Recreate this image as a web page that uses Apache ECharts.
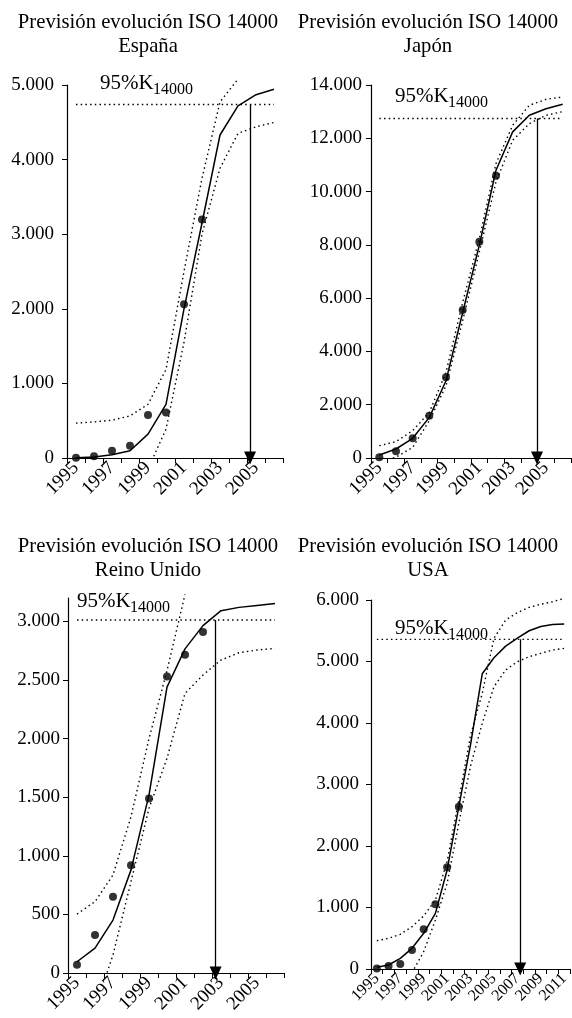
<!DOCTYPE html>
<html>
<head>
<meta charset="utf-8">
<script src="https://cdn.jsdelivr.net/npm/echarts@6/dist/echarts.min.js"></script>
<style>
  html, body { margin: 0; padding: 0; background: #fff; }
  #chart { width: 572px; height: 1018px; }
</style>
</head>
<body>
<div id="chart"></div>
<script>
// años (categorías) de cada gráfico
var yearsA = [1995, 1996, 1997, 1998, 1999, 2000, 2001, 2002, 2003, 2004, 2005, 2006];
var yearsUS = [1995, 1996, 1997, 1998, 1999, 2000, 2001, 2002, 2003, 2004, 2005, 2006, 2007, 2008, 2009, 2010, 2011];
var obsYears = [1995, 1996, 1997, 1998, 1999, 2000, 2001, 2002];

// etiquetas de los ejes
var xLabelsA = [1995, 1997, 1999, 2001, 2003, 2005];
var xLabelsUS = [1995, 1997, 1999, 2001, 2003, 2005, 2007, 2009, 2011];
var yTicksES = [0, 1000, 2000, 3000, 4000, 5000];
var yTicksJP = [0, 2000, 4000, 6000, 8000, 10000, 12000, 14000];
var yTicksUK = [0, 500, 1000, 1500, 2000, 2500, 3000];
var yTicksUS = [0, 1000, 2000, 3000, 4000, 5000, 6000];

// España
var obsES = [5, 22, 98, 164, 578, 609, 2062, 3196];
var fitES = [5, 12, 44, 98, 320, 720, 2000, 3150, 4330, 4720, 4870, 4942];
var upES = [467, 484, 507, 564, 720, 1187, 2500, 3750, 4773, 5080, null, null];
var lowES = [null, null, null, null, -150, 387, 1550, 3000, 3884, 4351, 4440, 4498];
var k95ES = 4738, t95ES = 2004.67;

// Japón
var obsJP = [25, 250, 738, 1590, 3028, 5556, 8120, 10597];
var fitJP = [113, 338, 738, 1525, 2900, 5463, 7990, 10800, 12240, 12863, 13110, 13280];
var upJP = [463, 613, 1025, 1713, 3213, 5838, 8238, 11050, 12488, 13238, 13463, 13550];
var lowJP = [-150, 30, 400, 1400, 2713, 5150, 7738, 10363, 11925, 12550, 12863, 13000];
var k95JP = 12740, t95JP = 2004.46;

// Reino Unido
var obsUK = [70, 325, 650, 920, 1490, 2530, 2715, 2910];
var fitUK = [96, 213, 452, 880, 1520, 2439, 2766, 2964, 3092, 3120, 3137, 3154];
var upUK = [503, 609, 836, 1334, 2000, 2580, 3230, null, null, null, null, null];
var lowUK = [null, -300, 154, 780, 1405, 1832, 2386, 2543, 2671, 2733, 2756, 2770];
var k95UK = 3012, t95UK = 2002.7;

// USA
var obsUS = [10, 49, 81, 309, 645, 1052, 1653, 2640];
var fitUS = [27, 65, 173, 336, 580, 905, 1610, 2640, 3650, 4800, 5060, 5250, 5380, 5500, 5570, 5600, 5610];
var upUS = [460, 499, 564, 688, 862, 1122, 1750, 2750, 3800, 4483, 5377, 5675, 5794, 5881, 5930, 5972, 6027];
var lowUS = [null, null, -300, -60, 282, 797, 1393, 2369, 3300, 3995, 4590, 4862, 4997, 5078, 5133, 5187, 5214];
var k95US = 5360, t95US = 2007.24;

var FONT = 'Liberation Serif';

function fmt(v) {
    return String(v).replace(/\B(?=(\d{3})+(?!\d))/g, '.');
}

function pairs(xs, ys) {
    var out = [];
    for (var i = 0; i < xs.length; i++) {
        if (ys[i] !== null && ys[i] !== undefined) out.push([xs[i], ys[i]]);
    }
    return out;
}

function xAxisCfg(gi, years, labels, fontSize) {
    var bounds = years.map(function (y) { return y - 0.5; });
    bounds.push(years[years.length - 1] + 0.5);
    return {
        type: 'value', gridIndex: gi,
        min: bounds[0], max: bounds[bounds.length - 1],
        axisLine: { show: true, onZero: false, lineStyle: { color: '#000', width: 1.2 } },
        axisTick: { show: true, customValues: bounds, length: 5, lineStyle: { color: '#000', width: 1 } },
        axisLabel: {
            customValues: labels, rotate: 45, margin: 7, color: '#000',
            fontFamily: FONT, fontSize: fontSize,
            formatter: function (v) { return String(v); }
        },
        splitLine: { show: false }
    };
}

function yAxisCfg(gi, max, ticks, margin) {
    return {
        type: 'value', gridIndex: gi, min: 0, max: max,
        axisLine: { show: true, lineStyle: { color: '#000', width: 1.2 } },
        axisTick: { show: true, customValues: ticks, length: 5, lineStyle: { color: '#000', width: 1 } },
        axisLabel: {
            customValues: ticks, margin: margin, color: '#000',
            fontFamily: FONT, fontSize: 19,
            formatter: function (v) { return fmt(v); }
        },
        splitLine: { show: false }
    };
}

var dotted = { color: '#000', width: 1.4, type: [1.5, 3.2] };

function panelSeries(gi, years, obs, fit, up, low, k95, t95) {
    return [
        {
            type: 'line', xAxisIndex: gi, yAxisIndex: gi, data: pairs(years, up),
            symbol: 'none', clip: false, lineStyle: dotted, silent: true
        },
        {
            type: 'line', xAxisIndex: gi, yAxisIndex: gi, data: pairs(years, low),
            symbol: 'none', clip: true, lineStyle: dotted, silent: true
        },
        {
            type: 'line', xAxisIndex: gi, yAxisIndex: gi, data: pairs(years, fit),
            symbol: 'none', clip: false, lineStyle: { color: '#000', width: 1.5 }, silent: true
        },
        {
            type: 'line', xAxisIndex: gi, yAxisIndex: gi,
            data: [[years[0], k95], [years[years.length - 1], k95]],
            symbol: 'none', lineStyle: dotted, silent: true,
            markLine: {
                silent: true, symbol: ['none', 'triangle'], symbolSize: [12, 13],
                label: { show: false },
                lineStyle: { color: '#000', width: 1.3, type: 'solid' },
                data: [[{ coord: [t95, k95] }, { coord: [t95, 0] }]]
            }
        },
        {
            type: 'scatter', xAxisIndex: gi, yAxisIndex: gi, data: pairs(obsYears, obs),
            symbol: 'circle', symbolSize: 8, itemStyle: { color: '#000' }, z: 5, silent: true
        }
    ];
}

function titleCfg(cx, top, name) {
    return {
        text: 'Previsión evolución ISO 14000\n' + name,
        left: cx, top: top, textAlign: 'center', padding: 0,
        textStyle: { fontFamily: FONT, fontSize: 20.7, fontWeight: 'normal', color: '#000', lineHeight: 24 }
    };
}

function kLabel(left, top) {
    return [
        { type: 'text', left: left, top: top, silent: true,
          style: { text: '95%K', font: '21px "Liberation Serif"', fill: '#000' } },
        { type: 'text', left: left + 53, top: top + 9, silent: true,
          style: { text: '14000', font: '16px "Liberation Serif"', fill: '#000' } }
    ];
}

var chart = echarts.init(document.getElementById('chart'), null, { renderer: 'canvas' });

var option = {
    animation: false,
    backgroundColor: '#fff',
    title: [
        titleCfg(148, 11, 'España'),
        titleCfg(428, 11, 'Japón'),
        titleCfg(148, 535, 'Reino Unido'),
        titleCfg(428, 535, 'USA')
    ],
    grid: [
        { left: 67, top: 85, width: 216, height: 373 },
        { left: 371, top: 85, width: 200, height: 373 },
        { left: 68, top: 598, width: 216, height: 375 },
        { left: 371, top: 600, width: 200, height: 369 }
    ],
    xAxis: [
        xAxisCfg(0, yearsA, xLabelsA, 19),
        xAxisCfg(1, yearsA, xLabelsA, 19),
        xAxisCfg(2, yearsA, xLabelsA, 19),
        xAxisCfg(3, yearsUS, xLabelsUS, 16)
    ],
    yAxis: [
        yAxisCfg(0, 5000, yTicksES, 13),
        yAxisCfg(1, 14000, yTicksJP, 9),
        yAxisCfg(2, 3200, yTicksUK, 8),
        yAxisCfg(3, 6000, yTicksUS, 12)
    ],
    series: [].concat(
        panelSeries(0, yearsA, obsES, fitES, upES, lowES, k95ES, t95ES),
        panelSeries(1, yearsA, obsJP, fitJP, upJP, lowJP, k95JP, t95JP),
        panelSeries(2, yearsA, obsUK, fitUK, upUK, lowUK, k95UK, t95UK),
        panelSeries(3, yearsUS, obsUS, fitUS, upUS, lowUS, k95US, t95US)
    ),
    graphic: [].concat(
        kLabel(100, 73),
        kLabel(395, 86),
        kLabel(77, 591),
        kLabel(395, 618)
    )
};

chart.setOption(option);
</script>
</body>
</html>
